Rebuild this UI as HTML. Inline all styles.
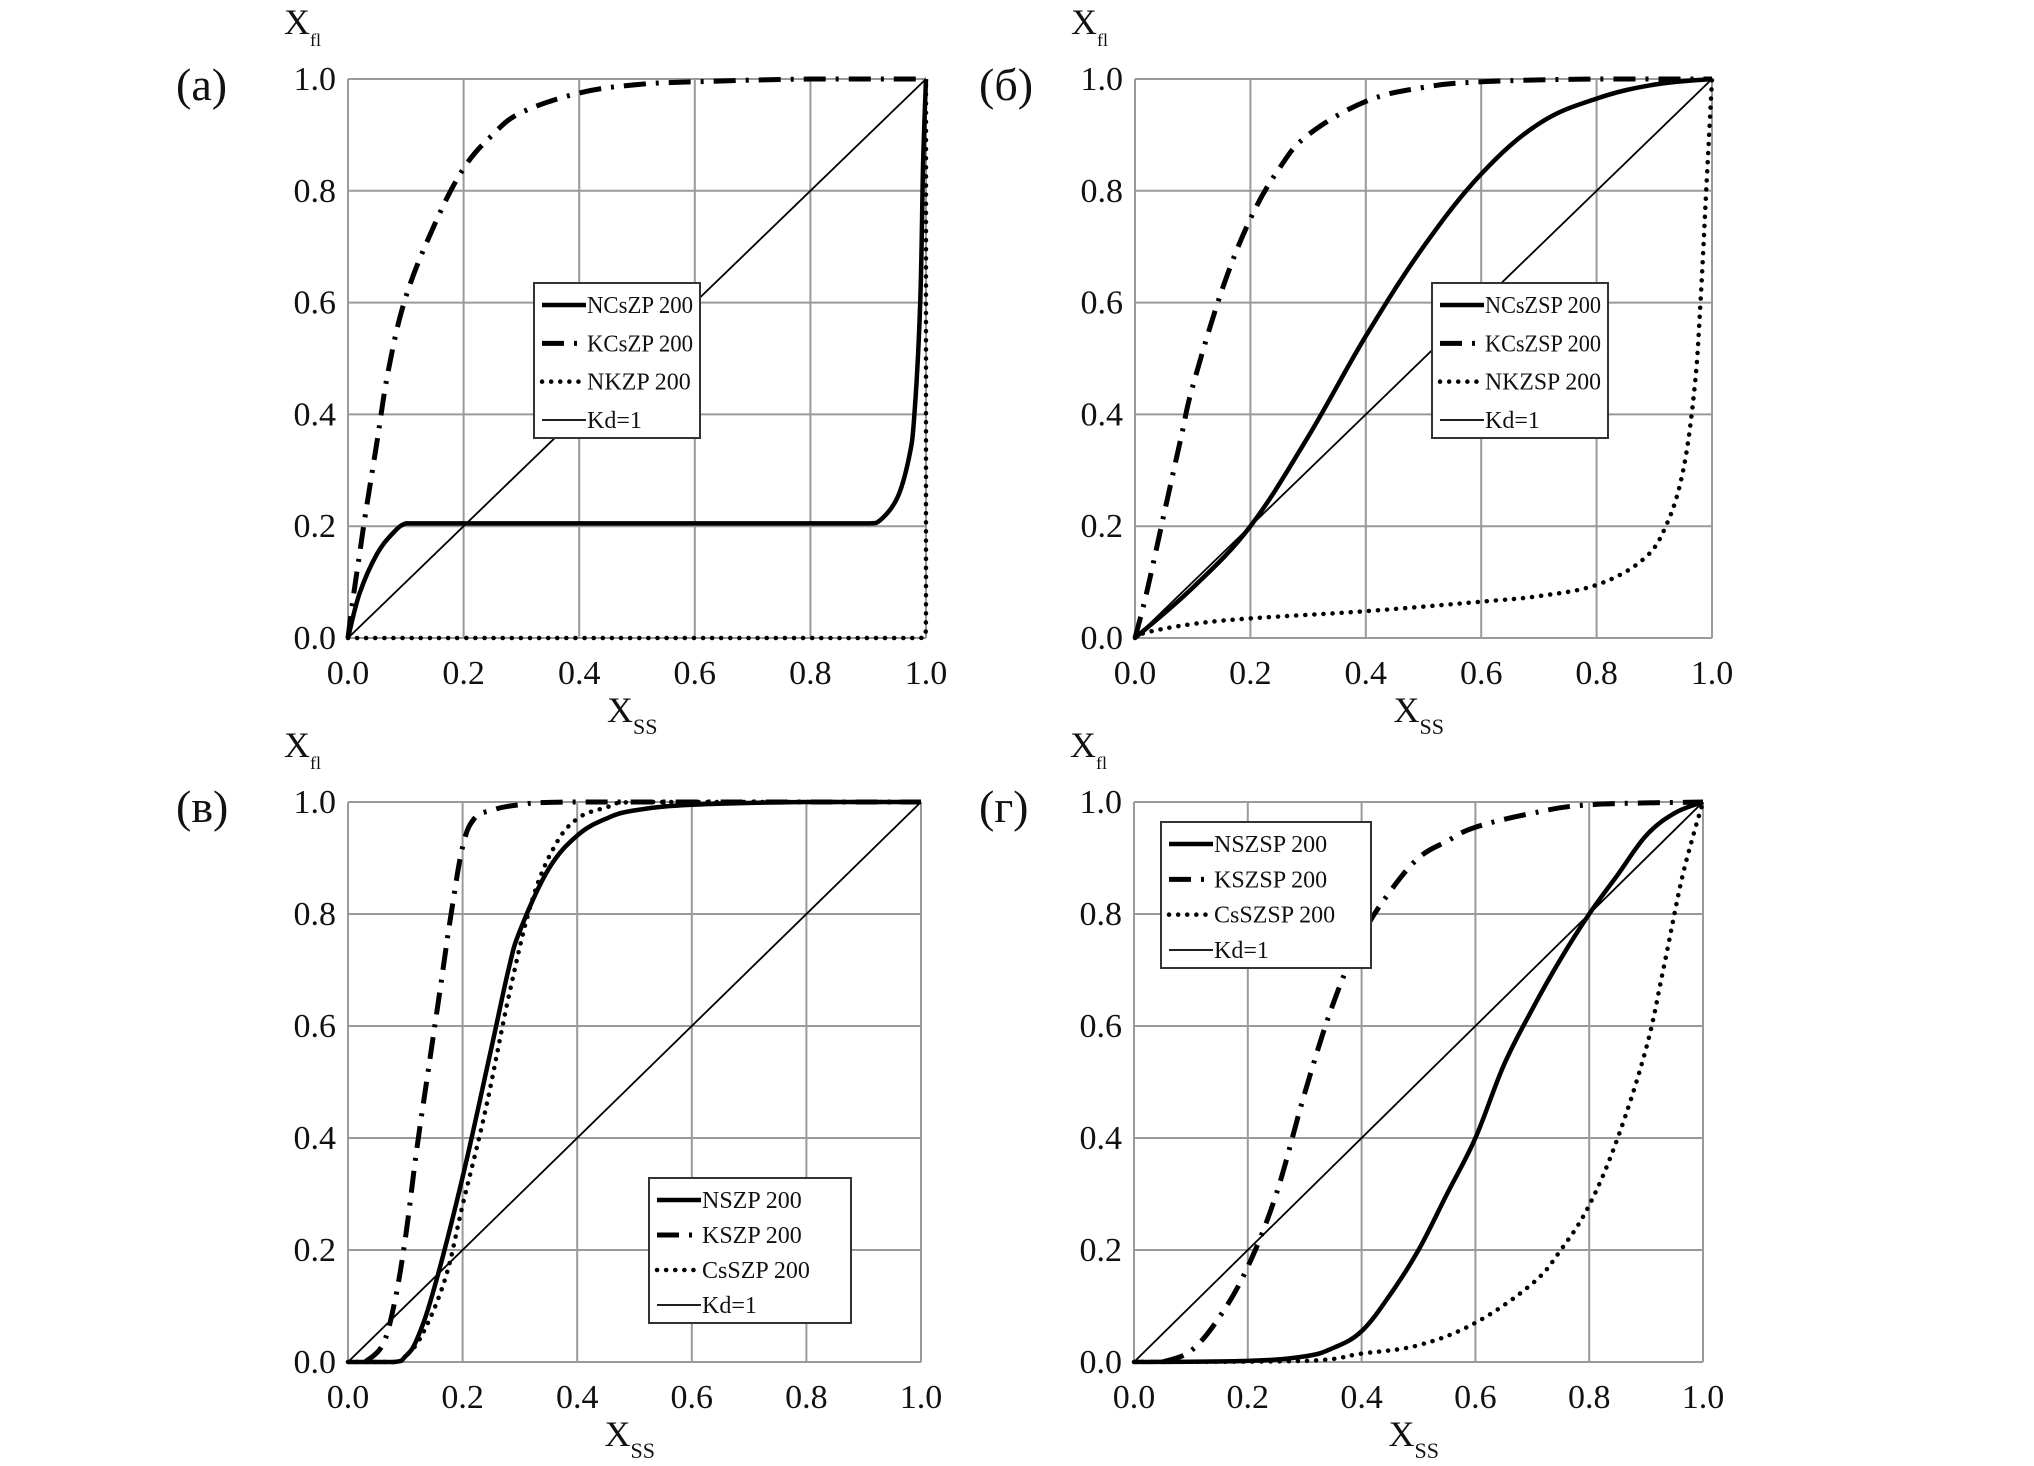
<!DOCTYPE html>
<html><head><meta charset="utf-8">
<style>
html,body{margin:0;padding:0;background:#fff;}
svg{display:block;font-family:"Liberation Serif",serif;}
</style></head>
<body>
<svg id="fig" width="2034" height="1466" viewBox="0 0 2034 1466" xmlns="http://www.w3.org/2000/svg"></svg>
<script>
// ---- data ----
const tickValues = [0, 0.2, 0.4, 0.6, 0.8, 1.0];
const tickLabels = ["0.0","0.2","0.4","0.6","0.8","1.0"];
const panelTitles = ["(a)","(б)","(в)","(г)"];

// Panel a
const aNX = [0,0.02,0.05,0.08,0.1,0.12,0.9,0.92,0.95,0.97,0.98,0.99,0.995,1];
const aNY = [0,0.08,0.15,0.19,0.205,0.205,0.205,0.21,0.25,0.32,0.4,0.6,0.85,1];
const aKX = [0,0.01,0.02,0.03,0.05,0.07,0.1,0.15,0.2,0.25,0.3,0.4,0.5,0.6,0.8,1];
const aKY = [0,0.08,0.15,0.22,0.35,0.48,0.61,0.74,0.84,0.9,0.94,0.975,0.99,0.995,1,1];
const aCX = [0,0.99,0.998,1,1];
const aCY = [0,0,0.003,0.05,1];
// Panel б
const bNX = [0,0.1,0.2,0.3,0.4,0.5,0.6,0.7,0.8,0.9,1];
const bNY = [0,0.09,0.2,0.36,0.54,0.7,0.83,0.92,0.965,0.99,1];
const bKX = [0,0.02,0.05,0.08,0.1,0.15,0.2,0.25,0.3,0.4,0.5,0.6,0.8,1];
const bKY = [0,0.08,0.22,0.36,0.45,0.62,0.75,0.84,0.9,0.96,0.985,0.995,1,1];
const bCX = [0,0.02,0.1,0.2,0.4,0.6,0.7,0.8,0.88,0.92,0.95,0.97,0.98,0.99,1];
const bCY = [0,0.01,0.025,0.035,0.048,0.065,0.075,0.095,0.14,0.2,0.3,0.45,0.6,0.8,1];
// Panel в
const cNX = [0,0.08,0.1,0.12,0.15,0.2,0.25,0.28,0.3,0.35,0.4,0.45,0.5,0.6,0.8,1];
const cNY = [0,0,0.01,0.04,0.13,0.33,0.56,0.7,0.77,0.88,0.94,0.97,0.985,0.995,1,1];
const cKX = [0.03,0.06,0.08,0.1,0.12,0.14,0.16,0.18,0.2,0.22,0.25,0.3,0.4,1];
const cKY = [0,0.03,0.1,0.22,0.38,0.52,0.66,0.8,0.92,0.97,0.985,0.995,1,1];
const cCX = [0,0.08,0.1,0.13,0.17,0.2,0.24,0.28,0.32,0.36,0.4,0.45,0.5,1];
const cCY = [0,0,0.01,0.05,0.15,0.28,0.45,0.65,0.82,0.92,0.97,0.99,1,1];
// Panel г
const dNX = [0,0.2,0.3,0.35,0.4,0.45,0.5,0.55,0.6,0.65,0.7,0.75,0.8,0.85,0.9,0.95,1];
const dNY = [0,0.002,0.01,0.025,0.055,0.12,0.2,0.3,0.4,0.53,0.63,0.72,0.8,0.87,0.94,0.98,1];
const dKX = [0.05,0.1,0.15,0.2,0.25,0.3,0.35,0.4,0.45,0.5,0.55,0.6,0.7,0.8,1];
const dKY = [0,0.02,0.08,0.17,0.3,0.48,0.64,0.76,0.84,0.9,0.93,0.955,0.98,0.995,1];
const dCX = [0,0.3,0.4,0.5,0.6,0.7,0.75,0.8,0.85,0.9,0.93,0.96,0.98,1];
const dCY = [0,0.002,0.015,0.03,0.07,0.14,0.2,0.28,0.4,0.56,0.7,0.85,0.93,1];

const kdX = [0,1];
const kdY = [0,1];

const panels = [
 {x0:348,x1:926,y0:638,y1:79, lab:[176,100], leg:[534,283,166,155],
  names:["NCsZP 200","KCsZP 200","NKZP 200","Kd=1"], series:[[aNX,aNY],[aKX,aKY],[aCX,aCY],[kdX,kdY]]},
 {x0:1135,x1:1712,y0:638,y1:79, lab:[979,100], leg:[1432,283,176,155],
  names:["NCsZSP 200","KCsZSP 200","NKZSP 200","Kd=1"], series:[[bNX,bNY],[bKX,bKY],[bCX,bCY],[kdX,kdY]]},
 {x0:348,x1:921,y0:1362,y1:802, lab:[176,822], leg:[649,1178,202,145],
  names:["NSZP 200","KSZP 200","CsSZP 200","Kd=1"], series:[[cNX,cNY],[cKX,cKY],[cCX,cCY],[kdX,kdY]]},
 {x0:1134,x1:1703,y0:1362,y1:802, lab:[979,822], leg:[1161,822,210,146],
  names:["NSZSP 200","KSZSP 200","CsSZSP 200","Kd=1"], series:[[dNX,dNY],[dKX,dKY],[dCX,dCY],[kdX,kdY]]}
];
const styles = [
 {w:4.5,dash:null,cap:"butt"},
 {w:5,dash:"22 10 3 10",cap:"butt"},
 {w:4.5,dash:"0.1 9",cap:"round"},
 {w:1.8,dash:null,cap:"butt"}
];
const NS="http://www.w3.org/2000/svg";
const svg=document.getElementById('fig');
function mk(tag,attrs,parent){const e=document.createElementNS(NS,tag);for(const k in attrs)e.setAttribute(k,attrs[k]);(parent||svg).appendChild(e);return e;}
function clamp(v,a,b){const lo=Math.min(a,b),hi=Math.max(a,b);return Math.max(lo,Math.min(hi,v));}
function smoothPath(P){
 if(P.length<3) return 'M'+P.map(p=>p[0].toFixed(1)+','+p[1].toFixed(1)).join(' L');
 let d='M'+P[0][0].toFixed(1)+','+P[0][1].toFixed(1);
 for(let i=0;i<P.length-1;i++){
  const p0=P[Math.max(0,i-1)],p1=P[i],p2=P[i+1],p3=P[Math.min(P.length-1,i+2)];
  const t=0.18;
  const c1=[clamp(p1[0]+(p2[0]-p0[0])*t,p1[0],p2[0]),clamp(p1[1]+(p2[1]-p0[1])*t,p1[1],p2[1])];
  const c2=[clamp(p2[0]-(p3[0]-p1[0])*t,p1[0],p2[0]),clamp(p2[1]-(p3[1]-p1[1])*t,p1[1],p2[1])];
  d+=' C'+c1[0].toFixed(1)+','+c1[1].toFixed(1)+' '+c2[0].toFixed(1)+','+c2[1].toFixed(1)+' '+p2[0].toFixed(1)+','+p2[1].toFixed(1);
 }
 return d;
}

panels.forEach((p,pi)=>{
 const g=mk('g',{});
 
 
 const sx=v=>p.x0+v*(p.x1-p.x0);
 const sy=v=>p.y0+v*(p.y1-p.y0);
 tickValues.forEach((t,i)=>{
  const gv=mk('line',{x1:sx(t),x2:sx(t),y1:p.y0,y2:p.y1,stroke:'#9a9a9a','stroke-width':2},g);
  
  
  const gh=mk('line',{x1:p.x0,x2:p.x1,y1:sy(t),y2:sy(t),stroke:'#9a9a9a','stroke-width':2},g);
  
  
  const tx=mk('text',{x:sx(t),y:p.y0+46,'font-size':34,'text-anchor':'middle',fill:'#111'},g);
  tx.textContent=tickLabels[i];
  
  
  const ty=mk('text',{x:p.x0-12,y:sy(t)+11,'font-size':34,'text-anchor':'end',fill:'#111'},g);
  ty.textContent=tickLabels[i];
  
  
 });
 p.series.forEach((s,si)=>{
  const P=s[0].map((x,i)=>[sx(x),sy(s[1][i])]);
  const st=styles[si];
  const a={d:smoothPath(P),fill:'none',stroke:'#000','stroke-width':st.w,'stroke-linecap':st.cap,'stroke-linejoin':'round'};
  if(st.dash)a['stroke-dasharray']=st.dash;
  const pl=mk('path',a,g);
  
  
 });
 const [lx,ly,lw,lh]=p.leg;
 const lg=mk('g',{},g);
 
 
 mk('rect',{x:lx,y:ly,width:lw,height:lh,fill:'#fff',stroke:'#333','stroke-width':2},lg);
 p.names.forEach((n,i)=>{
  const yy=ly+22+i*(lh-40)/3;
  const st=styles[i];
  const a={x1:lx+8,x2:lx+52,y1:yy,y2:yy,stroke:'#000','stroke-width':st.w,'stroke-linecap':st.cap};
  if(st.dash)a['stroke-dasharray']=st.dash;
  const ln=mk('line',a,lg);
  
  
  const t=mk('text',{x:lx+53,y:yy+8,'font-size':24,fill:'#111'},lg);
  t.textContent=n;
  
  
  const avail=lw-60;
  try{ if(t.getComputedTextLength()>avail){t.setAttribute('textLength',avail);t.setAttribute('lengthAdjust','spacingAndGlyphs');} }catch(e){}
 });
 const pl=mk('text',{x:p.lab[0],y:p.lab[1],'font-size':46,fill:'#111'},g);
 pl.textContent=panelTitles[pi];
 
 
 const yt=mk('text',{x:p.x0-64,y:p.y1-45,'font-size':36,fill:'#111'},g);
 yt.innerHTML='X<tspan font-size="18" dy="12">fl</tspan>';
 
 
 const xt=mk('text',{x:(p.x0+p.x1)/2-30,y:p.y0+84,'font-size':36,fill:'#111'},g);
 xt.innerHTML='X<tspan font-size="22" dy="12">SS</tspan>';
 
 
});
</script>
</body></html>
